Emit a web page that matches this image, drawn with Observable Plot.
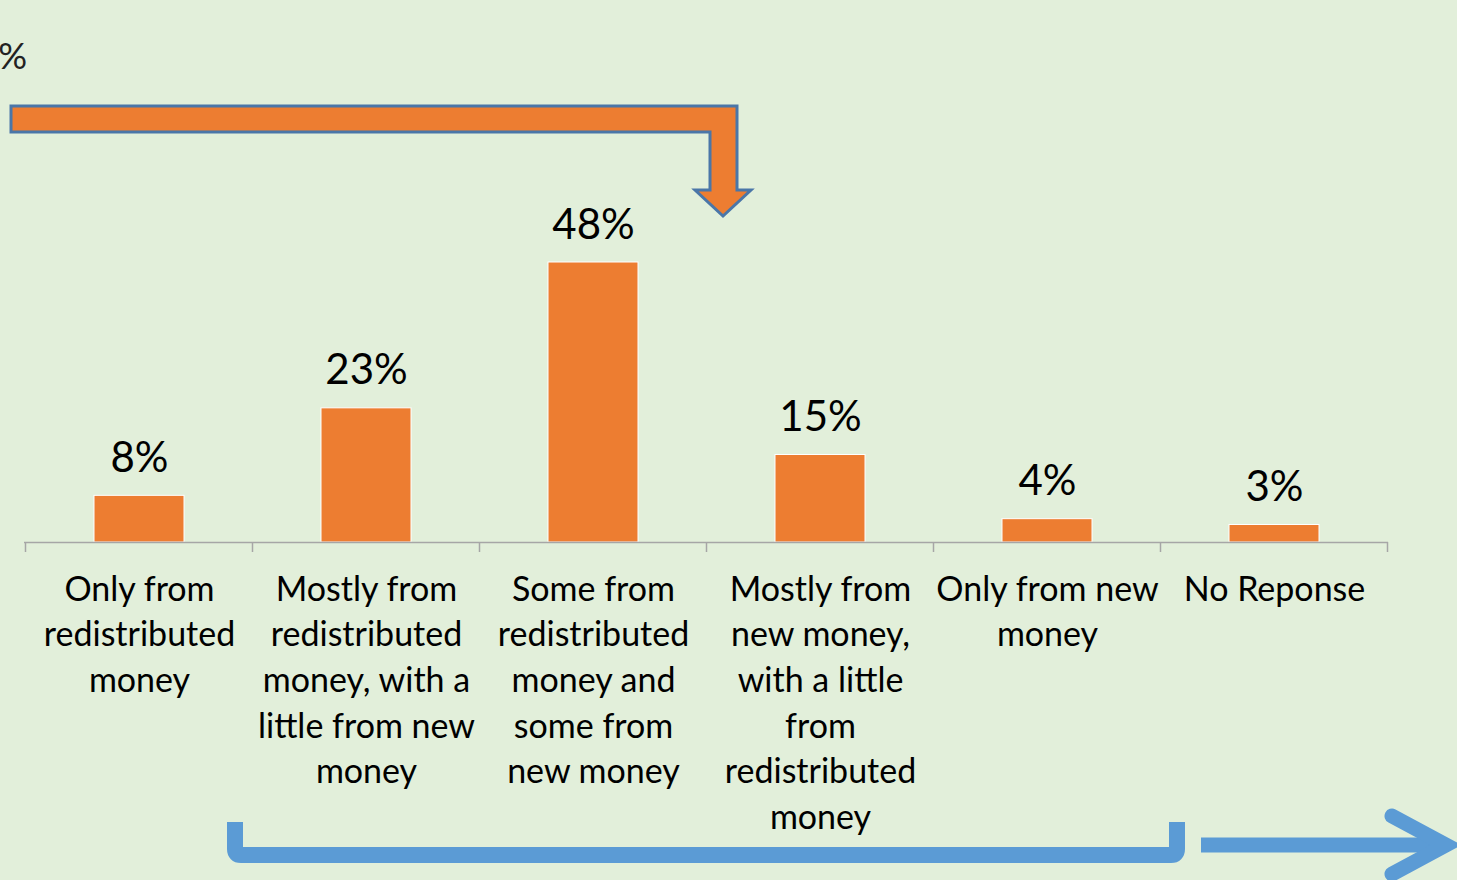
<!DOCTYPE html>
<html>
<head>
<meta charset="utf-8">
<script src="https://cdn.jsdelivr.net/npm/d3@7"></script>
<script src="https://cdn.jsdelivr.net/npm/@observablehq/plot@0.6"></script>
<style>
  html, body { margin: 0; padding: 0; background: #E2EFDA; overflow: hidden; }
  #chart svg { display: block; }
</style>
</head>
<body>
<div id="chart"></div>
<script>
// ---- data ----
const categories = [
  "Only from redistributed money",
  "Mostly from redistributed money, with a little from new money",
  "Some from redistributed money and some from new money",
  "Mostly from new money, with a little from redistributed money",
  "Only from new money",
  "No Reponse"
];
const categoryLabels = [
  "Only from\nredistributed\nmoney",
  "Mostly from\nredistributed\nmoney, with a\nlittle from new\nmoney",
  "Some from\nredistributed\nmoney and\nsome from\nnew money",
  "Mostly from\nnew money,\nwith a little\nfrom\nredistributed\nmoney",
  "Only from new\nmoney",
  "No Reponse"
];
const values = [8, 23, 48, 15, 4, 3];
const valueLabels = ["8%", "23%", "48%", "15%", "4%", "3%"];

const data = categories.map((c, i) => ({cat: c, value: values[i], label: valueLabels[i], catLabel: categoryLabels[i]}));

const W = 1457, H = 880;
const fontFamily = "Lato, 'Liberation Sans', sans-serif";

const chart = Plot.plot({
  width: W,
  height: H,
  marginLeft: 24,
  marginRight: 69,
  marginTop: 262,
  marginBottom: 338,
  style: {background: "#E2EFDA", fontFamily, overflow: "visible"},
  x: {domain: categories, paddingInner: 0.604, paddingOuter: 0.302, align: 0.5, axis: null},
  y: {domain: [0, 48], axis: null},
  marks: [
    Plot.barY(data, {x: "cat", y: "value", fill: "#ED7D31", stroke: "white", strokeWidth: 1}),
    Plot.ruleY([0], {stroke: "#a6a6a6", strokeWidth: 1.5}),
    Plot.text(data, {x: "cat", y: "value", text: "label", lineAnchor: "bottom", dy: -24, fontSize: 42, fill: "black"}),
    Plot.text(data, {x: "cat", y: () => 0, text: "catLabel", lineAnchor: "top", lineHeight: 1.34, dy: 26, fontSize: 34, fill: "black"})
  ]
});
document.getElementById("chart").appendChild(chart);

// tick marks at band boundaries, using the plot's own scales
const xs = chart.scale("x");
const ys = chart.scale("y");
const y0 = ys.apply(0);
const svg = d3.select(chart);
const gap = (xs.step - xs.bandwidth) / 2;
const bounds = categories.map(c => xs.apply(c) - gap);
bounds.push(xs.apply(categories[categories.length - 1]) + xs.bandwidth + gap);
svg.append("g").selectAll("line").data(bounds).join("line")
  .attr("x1", d => d).attr("x2", d => d)
  .attr("y1", y0).attr("y2", y0 + 10)
  .attr("stroke", "#a6a6a6").attr("stroke-width", 1.5);

// decorations
const deco = svg.append("g");
deco.append("text").attr("x", 27).attr("y", 69).attr("text-anchor", "end")
  .attr("font-size", 36).attr("font-family", fontFamily).attr("fill", "#222").text("%");
deco.append("path")
  .attr("d", "M11,106 L737,106 L737,190 L751,190 L723,216 L695,190 L710,190 L710,132 L11,132 Z")
  .attr("fill", "#ED7D31").attr("stroke", "#4A76A8").attr("stroke-width", 3).attr("stroke-linejoin", "miter");
deco.append("path")
  .attr("d", "M235,822 L235,849 Q235,855 241,855 L1171,855 Q1177,855 1177,849 L1177,822")
  .attr("fill", "none").attr("stroke", "#5B9BD5").attr("stroke-width", 16);
deco.append("path")
  .attr("d", "M1201,845 L1440,845")
  .attr("fill", "none").attr("stroke", "#5B9BD5").attr("stroke-width", 15);
deco.append("path")
  .attr("d", "M1392,816 L1446,845 L1392,874")
  .attr("fill", "none").attr("stroke", "#5B9BD5").attr("stroke-width", 15)
  .attr("stroke-linecap", "round").attr("stroke-linejoin", "miter");
</script>
</body>
</html>
